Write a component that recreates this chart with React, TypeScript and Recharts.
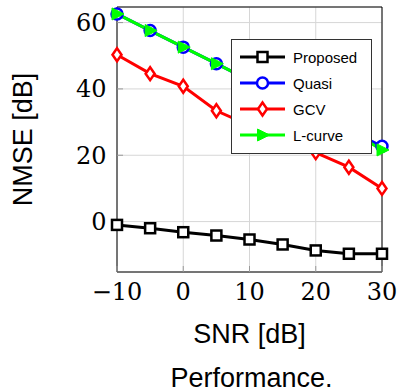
import { LineChart, Line, XAxis, YAxis, CartesianGrid, ReferenceArea } from "recharts";

const snr = [-10, -5, 0, 5, 10, 15, 20, 25, 30];
const proposed = [-1.0, -2.0, -3.2, -4.2, -5.4, -6.9, -8.7, -9.7, -9.7];
const quasi = [62.6, 57.6, 52.6, 47.6, 42.6, 37.6, 32.6, 27.6, 22.7];
const gcv = [50.3, 44.6, 40.8, 33.4, 29.0, 25.0, 20.8, 16.4, 10.0];
const lcurve = [62.6, 57.6, 52.6, 47.6, 42.6, 37.6, 32.6, 27.6, 21.6];

const xTicks = [-10, 0, 10, 20, 30];
const yTicks = [0, 20, 40, 60];

type Shape = "square" | "circle" | "diamond" | "triangle";

const series: { key: string; name: string; color: string; shape: Shape }[] = [
    { key: "proposed", name: "Proposed", color: "#000000", shape: "square" },
    { key: "quasi", name: "Quasi", color: "#0000ff", shape: "circle" },
    { key: "gcv", name: "GCV", color: "#ff0000", shape: "diamond" },
    { key: "lcurve", name: "L-curve", color: "#00ff00", shape: "triangle" },
];

const data = snr.map((x, i) => ({
    snr: x,
    proposed: proposed[i],
    quasi: quasi[i],
    gcv: gcv[i],
    lcurve: lcurve[i],
}));

const xDomain: [number, number] = [-10, 30];
const yDomain: [number, number] = [-15.2, 64.7];

const tickFont = { fontFamily: "DejaVu Serif", fontSize: 24, fill: "#000" };
const labelFont = "Liberation Sans";
const tickMark = { stroke: "#9a9a9a", strokeWidth: 1 };

function Marker({ shape, cx, cy, color }: { shape: Shape; cx: number; cy: number; color: string }) {
    switch (shape) {
        case "square":
            return <rect x={cx - 5} y={cy - 5} width={10} height={10} fill="#fff" stroke={color} strokeWidth={2.5} />;
        case "circle":
            return <circle cx={cx} cy={cy} r={5.5} fill="#fff" stroke={color} strokeWidth={2.5} />;
        case "diamond":
            return (
                <polygon
                    points={`${cx},${cy - 6.5} ${cx + 4.5},${cy} ${cx},${cy + 6.5} ${cx - 4.5},${cy}`}
                    fill="#fff"
                    stroke={color}
                    strokeWidth={2.5}
                />
            );
        default:
            return (
                <polygon
                    points={`${cx - 5},${cy - 6} ${cx + 7},${cy} ${cx - 5},${cy + 6}`}
                    fill={color}
                    stroke={color}
                    strokeWidth={1}
                />
            );
    }
}

function LegendBox() {
    return (
        <div
            style={{
                position: "absolute",
                left: 231,
                top: 39,
                width: 141,
                height: 115,
                boxSizing: "border-box",
                border: "1px solid #333",
                background: "#fff",
                padding: "4px 0 0 8px",
            }}
        >
            {series.map((s) => (
                <div key={s.key} style={{ display: "flex", alignItems: "center", height: 26 }}>
                    <svg width={45} height={26} style={{ display: "block" }}>
                        <line x1={0} y1={13} x2={45} y2={13} stroke={s.color} strokeWidth={3} />
                        <Marker shape={s.shape} cx={22.5} cy={13} color={s.color} />
                    </svg>
                    <span style={{ marginLeft: 8, fontFamily: labelFont, fontSize: 15, color: "#000" }}>{s.name}</span>
                </div>
            ))}
        </div>
    );
}

export default function App() {
    return (
        <div style={{ position: "absolute", left: 0, top: 0, width: 397, height: 391, background: "#fff" }}>
            <LineChart width={397} height={391} data={data} margin={{ top: 7, right: 15, bottom: 0, left: 0 }}>
                <CartesianGrid stroke="#d6d6d6" strokeWidth={1} />
                <XAxis
                    dataKey="snr"
                    type="number"
                    domain={xDomain}
                    ticks={xTicks}
                    tick={tickFont}
                    tickFormatter={(v: number) => (v < 0 ? `\u2212${-v}` : String(v))}
                    axisLine={false}
                    tickLine={tickMark}
                    tickSize={-6}
                    tickMargin={17}
                    height={119}
                    label={{
                        content: (props: any) => {
                            const vb = props.viewBox;
                            const cx = vb.x + vb.width / 2;
                            return (
                                <g fontFamily={labelFont} fontSize={27} fill="#000" textAnchor="middle">
                                    <text x={cx} y={vb.y + 71}>SNR [dB]</text>
                                    <text x={cx + 2} y={vb.y + 114.5}>Performance.</text>
                                </g>
                            );
                        },
                    }}
                />
                <XAxis
                    xAxisId="top"
                    orientation="top"
                    dataKey="snr"
                    type="number"
                    domain={xDomain}
                    ticks={xTicks}
                    tick={false}
                    axisLine={false}
                    tickLine={tickMark}
                    tickSize={-6}
                    height={0}
                />
                <YAxis
                    type="number"
                    domain={yDomain}
                    ticks={yTicks}
                    tick={tickFont}
                    axisLine={false}
                    tickLine={tickMark}
                    tickSize={-6}
                    tickMargin={16.5}
                    width={117}
                    label={{
                        content: (props: any) => {
                            const vb = props.viewBox;
                            const x = vb.x + 32;
                            const y = vb.y + vb.height / 2;
                            return (
                                <text
                                    x={x}
                                    y={y}
                                    transform={`rotate(-90, ${x}, ${y})`}
                                    fontFamily={labelFont}
                                    fontSize={27}
                                    fill="#000"
                                    textAnchor="middle"
                                >
                                    NMSE [dB]
                                </text>
                            );
                        },
                    }}
                />
                <YAxis
                    yAxisId="right"
                    orientation="right"
                    type="number"
                    domain={yDomain}
                    ticks={yTicks}
                    tick={false}
                    axisLine={false}
                    tickLine={tickMark}
                    tickSize={-6}
                    width={0}
                />
                <ReferenceArea x1={-10} x2={30} y1={-15.2} y2={64.7} fill="none" stroke="#000" strokeWidth={1} />
                {series.map((s) => (
                    <Line
                        key={s.key}
                        dataKey={s.key}
                        name={s.name}
                        stroke={s.color}
                        strokeWidth={3}
                        isAnimationActive={false}
                        dot={(p: any) => <Marker key={`${s.key}-${p.index}`} shape={s.shape} cx={p.cx} cy={p.cy} color={s.color} />}
                        activeDot={false}
                    />
                ))}
            </LineChart>
            <LegendBox />
        </div>
    );
}
